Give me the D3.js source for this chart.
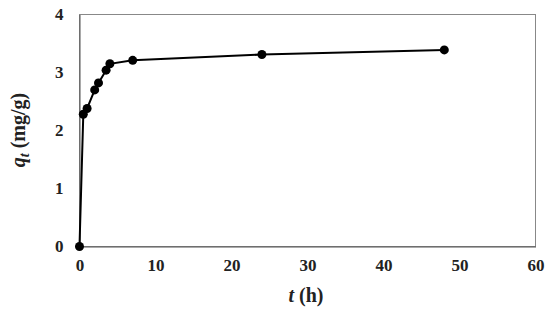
<!DOCTYPE html>
<html><head><meta charset="utf-8">
<script src="https://cdn.jsdelivr.net/npm/d3@7"></script>
<style>body{margin:0;background:#fff}svg{display:block}text{font-family:"Liberation Serif","Times New Roman",serif;font-weight:bold;fill:#222}</style>
</head><body><svg id="c" width="550" height="311"></svg>
<script>
const timeH = [0, 0.5, 1, 2, 2.5, 3.5, 4, 7, 24, 48];
const qt = [0, 2.28, 2.38, 2.70, 2.82, 3.04, 3.15, 3.21, 3.31, 3.39];
const xTicks = [0, 10, 20, 30, 40, 50, 60];
const yTicks = [0, 1, 2, 3, 4];

const svg = d3.select("#c");
const x = d3.scaleLinear().domain([0, 60]).range([79.5, 535.5]);
const y = d3.scaleLinear().domain([0, 4]).range([246.5, 14.5]);

// frame
svg.append("rect").attr("x", x(0)).attr("y", y(4)).attr("width", x(60) - x(0)).attr("height", y(0) - y(4))
  .attr("fill", "none").attr("stroke", "#888").attr("stroke-width", 1);

const xa = svg.append("g").attr("transform", `translate(0,${y(0)})`)
  .call(d3.axisBottom(x).tickValues(xTicks).tickFormat(d3.format("d")).tickSize(0).tickPadding(12));
xa.select(".domain").attr("stroke", "#555");
xa.selectAll("text").attr("font-size", 17).attr("font-family", "Liberation Serif").attr("font-weight", "bold").attr("fill", "#222");

const ya = svg.append("g").attr("transform", `translate(${x(0)},0)`)
  .call(d3.axisLeft(y).tickValues(yTicks).tickFormat(d3.format("d")).tickSize(0).tickPadding(16));
ya.select(".domain").attr("stroke", "#555");
ya.selectAll("text").attr("font-size", 17).attr("font-family", "Liberation Serif").attr("font-weight", "bold").attr("fill", "#222");

const data = timeH.map((t, i) => ({t, q: qt[i]}));
svg.append("path").datum(data)
  .attr("d", d3.line().x(d => x(d.t)).y(d => y(d.q)))
  .attr("fill", "none").attr("stroke", "#000").attr("stroke-width", 2);
svg.selectAll("circle.pt").data(data).enter().append("circle")
  .attr("cx", d => x(d.t)).attr("cy", d => y(d.q)).attr("r", 4.5).attr("fill", "#000");

// axis titles
const xt = svg.append("text").attr("x", 306).attr("y", 302).attr("text-anchor", "middle").attr("font-size", 20);
xt.append("tspan").attr("font-style", "italic").text("t");
xt.append("tspan").text(" (h)");

const yt = svg.append("text").attr("transform", "translate(25,130) rotate(-90)").attr("text-anchor", "middle").attr("font-size", 20);
yt.append("tspan").attr("font-style", "italic").text("q");
yt.append("tspan").attr("font-style", "italic").attr("font-size", 14).attr("dy", 4).text("t");
yt.append("tspan").attr("dy", -4).text(" (mg/g)");
</script></body></html>
